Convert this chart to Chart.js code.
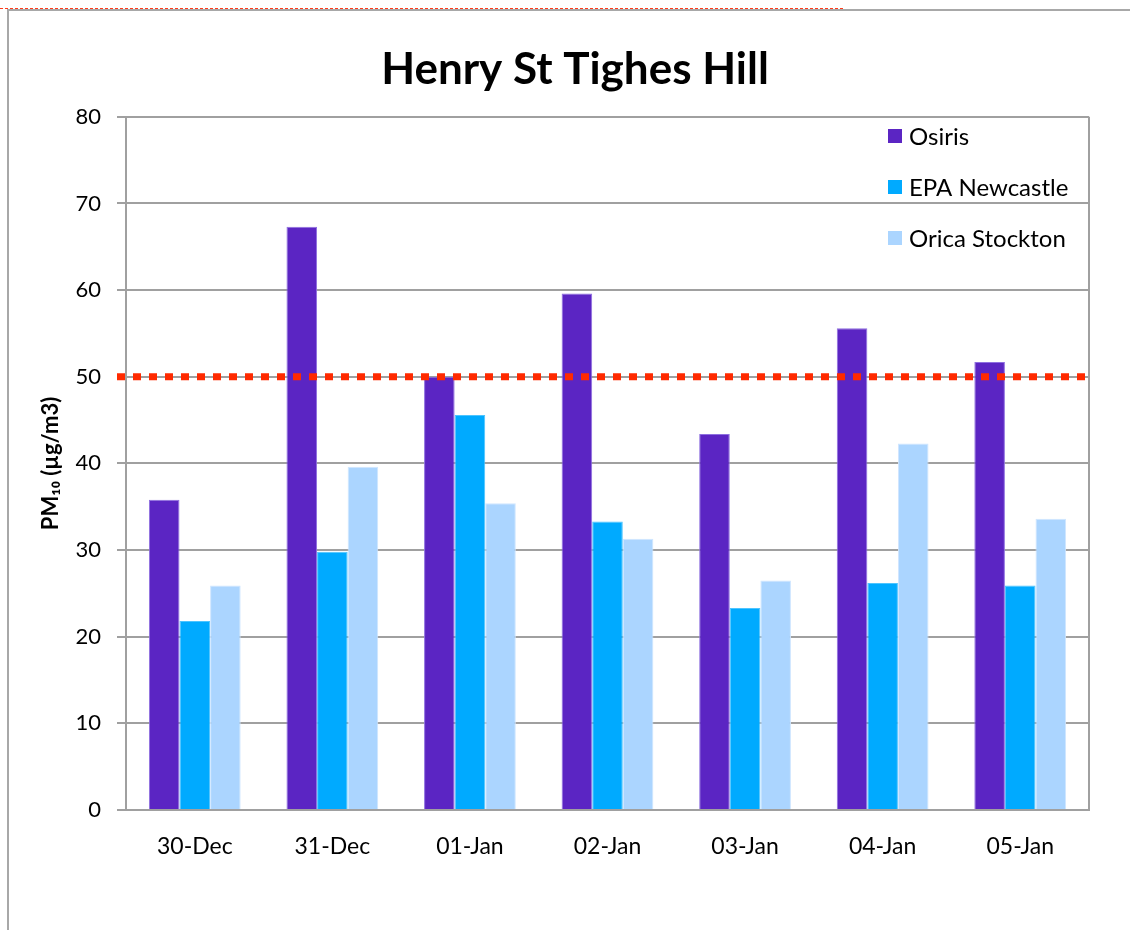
<!DOCTYPE html>
<html>
<head>
<meta charset="utf-8">
<title>Henry St Tighes Hill</title>
<script src="https://cdn.jsdelivr.net/npm/chart.js@4.4.1/dist/chart.umd.min.js"></script>
<style>
    body { margin: 0; background: #fff; }
    #wrap { position: relative; width: 1130px; height: 930px; overflow: hidden; }
    #grafico { position: absolute; left: 0; top: 0; }
    .frame-top { position: absolute; left: 7px; top: 9px; width: 1123px; border-top: 2px solid #a8a8a8; }
    .frame-left { position: absolute; left: 7px; top: 9px; height: 921px; border-left: 2px solid #a8a8a8; }
    .cell-line { position: absolute; left: 0; top: 8px; width: 843px; border-top: 1px dashed #ff3b1a; }
</style>
</head>
<body>
<div id="wrap">
    <canvas id="grafico" width="1130" height="930"></canvas>
    <div class="frame-top"></div>
    <div class="frame-left"></div>
    <div class="cell-line"></div>
</div>
<script>
// dados
const dias = ['30-Dec', '31-Dec', '01-Jan', '02-Jan', '03-Jan', '04-Jan', '05-Jan'];
const osiris = [35.8, 67.3, 50.0, 59.6, 43.4, 55.6, 51.7];
const epaNewcastle = [21.8, 29.8, 45.6, 33.3, 23.3, 26.2, 25.9];
const oricaStockton = [25.9, 39.6, 35.4, 31.3, 26.5, 42.3, 33.6];
const series = ['Osiris', 'EPA Newcastle', 'Orica Stockton'];
const yTicks = [0, 10, 20, 30, 40, 50, 60, 70, 80];
const limite = 50; // padrão PM10

const cores = ['#5b25c3', '#00aaff', '#abd5ff'];
const bordas = ['#8e6fe0', '#4cc4ff', '#cfe6ff'];
const fonte = 'Lato';

// linha pontilhada do limite, borda direita e legenda
const extras = {
    id: 'extras',
    afterDatasetsDraw(chart) {
        const { ctx, chartArea, scales } = chart;
        const y = scales.y.getPixelForValue(limite);
        ctx.save();
        ctx.strokeStyle = '#a0a0a0';
        ctx.lineWidth = 2;
        ctx.beginPath();
        ctx.moveTo(chartArea.right, chartArea.top);
        ctx.lineTo(chartArea.right, chartArea.bottom);
        ctx.stroke();

        ctx.strokeStyle = '#ff2a00';
        ctx.lineWidth = 7;
        ctx.setLineDash([8, 8]);
        ctx.beginPath();
        ctx.moveTo(chartArea.left - 9, y);
        ctx.lineTo(chartArea.right, y);
        ctx.stroke();
        ctx.setLineDash([]);

        ctx.font = '24px ' + fonte;
        ctx.textBaseline = 'middle';
        chart.data.datasets.forEach((ds, i) => {
            const ly = 136 + i * 51;
            ctx.fillStyle = ds.backgroundColor;
            ctx.fillRect(888, ly - 7, 14, 14);
            ctx.fillStyle = '#000';
            ctx.fillText(ds.label, 909, ly + 1);
        });
        ctx.restore();
    }
};

const ctx = document.getElementById('grafico').getContext('2d');
new Chart(ctx, {
    type: 'bar',
    data: {
        labels: dias,
        datasets: [osiris, epaNewcastle, oricaStockton].map((d, i) => ({
            label: series[i],
            data: d,
            backgroundColor: cores[i],
            borderColor: bordas[i],
            borderWidth: 1,
            categoryPercentage: 0.667,
            barPercentage: 1.0
        }))
    },
    options: {
        responsive: false,
        animation: false,
        devicePixelRatio: 1,
        layout: { padding: { left: 20, right: 0, top: 0, bottom: 0 } },
        plugins: {
            legend: { display: false },
            tooltip: { enabled: false },
            title: {
                display: true,
                text: 'Henry St Tighes Hill',
                color: '#000',
                font: { family: fonte, size: 44, weight: 'bold' },
                padding: { top: 43, bottom: 21 }
            }
        },
        scales: {
            x: {
                grid: { display: false },
                border: { color: '#a0a0a0', width: 2 },
                ticks: { color: '#000', font: { family: fonte, size: 23 }, padding: 15, maxRotation: 0 },
                afterFit: (s) => { s.height = 120; }
            },
            y: {
                min: 0,
                max: 80,
                afterBuildTicks: (s) => { s.ticks = yTicks.map(v => ({ value: v })); },
                grid: { color: '#a0a0a0', lineWidth: 2, tickLength: 9 },
                border: { color: '#a0a0a0', width: 2 },
                ticks: { color: '#000', font: { family: fonte, size: 22 }, padding: 16 },
                title: {
                    display: true,
                    text: 'PM\u2081\u2080 (\u00b5g/m3)',
                    color: '#000',
                    font: { family: fonte, size: 22, weight: 'bold' },
                    padding: { top: 18, bottom: 0 }
                },
                afterFit: (s) => { s.width = 106; }
            },
            // eixo vazio só para reservar a margem da direita
            direita: {
                type: 'linear',
                position: 'right',
                grid: { display: false },
                border: { display: false },
                ticks: { display: false },
                afterFit: (s) => { s.width = 41; }
            }
        }
    },
    plugins: [extras]
});
</script>
</body>
</html>
